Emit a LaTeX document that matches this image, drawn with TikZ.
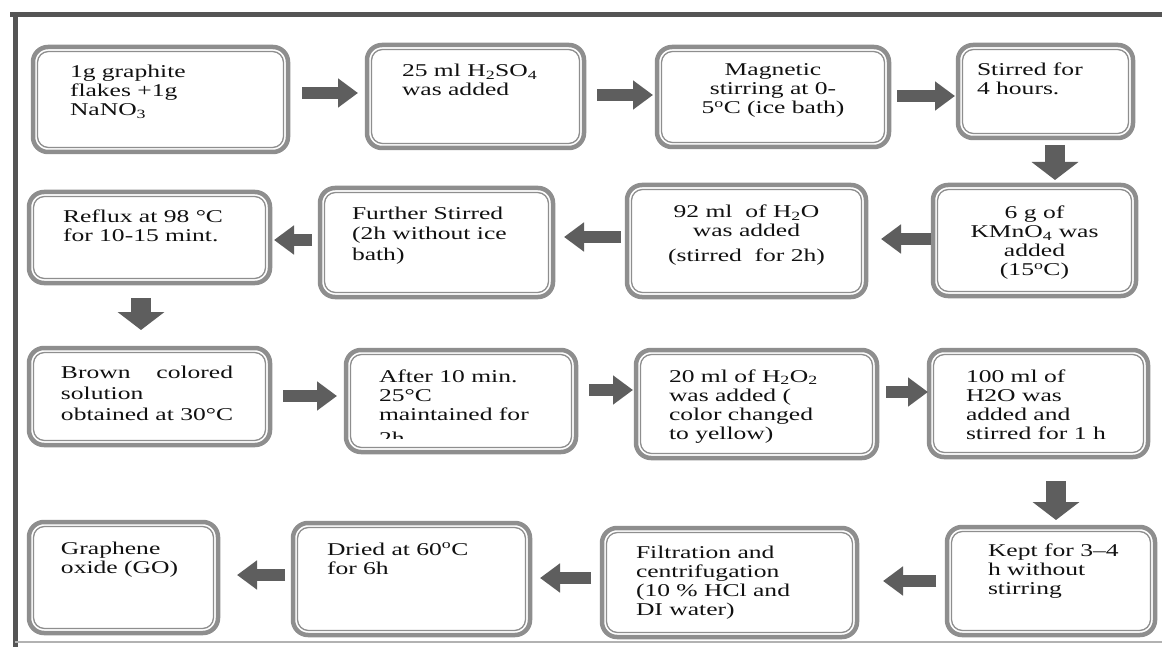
\documentclass[tikz,border=0pt]{standalone}
\usepackage{fontspec}
\setmainfont{Liberation Serif}[FakeStretch=1.42]
\usetikzlibrary{arrows.meta}
\definecolor{bordergray}{HTML}{8E8E8E}
\definecolor{arrowgray}{HTML}{5E5E5E}
\definecolor{framegray}{HTML}{555555}
\definecolor{txt}{HTML}{111111}
\newcommand\lft[1]{\raggedright\leftskip=#1pt\relax}
\newcommand\ctr{\centering}
\newcommand\flowbx[8]{\node[flowbox, anchor=north west] (#1) at (#2,#3) {\begin{minipage}[t][\dimexpr#5pt-#3pt\relax][t]{\dimexpr#4pt-#2pt\relax}#7\rule{0pt}{#6pt}#8\end{minipage}};}
\tikzset{
  flowbox/.style={draw=bordergray, line width=4.5pt, rounded corners=15pt, fill=white,
    inner sep=0pt, outer sep=0pt, text=txt, font=\fontsize{18}{19}\selectfont},
  innerline/.style={draw=bordergray, line width=1.3pt, rounded corners=11pt},
  harrow/.style={draw=arrowgray, line width=12pt, -{Triangle[length=20pt,width=28pt]}},
  varrow/.style={draw=arrowgray, line width=20pt, -{Triangle[length=18pt,width=46pt]}},
}
\begin{document}
\begin{tikzpicture}[x=1pt,y=-1pt]
\useasboundingbox (0,0) rectangle (1162,647);
\fill[white] (0,0) rectangle (1162,647);
% frame
\draw[framegray, line width=5pt] (10,15) -- (1162,15);
\draw[framegray, line width=5pt] (15,12.5) -- (15,647);
\draw[gray!60, line width=1.5pt] (15,642) -- (1162,642);
% boxes
\flowbx{b1}{33}{47}{288}{152}{31}{\lft{37}}{1g graphite\\flakes +1g\\NaNO\textsubscript{3}}
\flowbx{b2}{367}{45}{584}{148}{32}{\lft{35}}{25 ml H\textsubscript{2}SO\textsubscript{4}\\was added}
\flowbx{b3}{657}{47}{889}{147}{29}{\ctr}{Magnetic\\stirring at 0-\\5\textsuperscript{o}C (ice bath)}
\flowbx{b4}{958}{45}{1133}{138}{31}{\lft{19}}{Stirred for\\4 hours.}
\flowbx{b5}{29}{192}{270}{283}{31}{\lft{34}}{Reflux at 98 °C\\for 10-15 mint.}
\flowbx{b6}{320}{188}{553}{297}{32}{\lft{32}}{Further Stirred\\[1pt](2h without ice\\[1pt]bath)}
\flowbx{b7}{627}{185}{866}{297}{33}{\ctr}{92 ml\ \ of H\textsubscript{2}O\\was added\\[6pt](stirred\ \ for 2h)}
\flowbx{b8}{933}{185}{1136}{296}{34}{\ctr}{6 g of\\KMnO\textsubscript{4} was\\added\\(15\textsuperscript{o}C)}
\flowbx{b9}{29}{348}{270}{445}{30}{\lft{32}}{{\setbox0\hbox{obtained at 30°C}\hbox to\wd0{Brown\hfill colored}}\\[2pt]solution\\[2pt]obtained at 30°C}
\flowbx{b10}{346}{350}{576}{452}{32}{\lft{33}}{After 10 min.\\25°C\\maintained for\\[5pt]2h}
\flowbx{b11}{636}{350}{877}{458}{32}{\lft{33}}{20 ml of H\textsubscript{2}O\textsubscript{2}\\was added (\\color changed\\to yellow)}
\flowbx{b12}{929}{350}{1148}{457}{32}{\lft{37}}{100 ml of\\H2O was\\added and\\stirred for 1 h}
\flowbx{b13}{29}{522}{218}{633}{32}{\lft{32}}{Graphene\\oxide (GO)}
\flowbx{b14}{293}{523}{530}{635}{32}{\lft{34}}{Dried at 60\textsuperscript{o}C\\for 6h}
\flowbx{b15}{602}{528}{857}{637}{30}{\lft{34}}{Filtration and\\centrifugation\\(10 \% HCl and\\DI water)}
\flowbx{b16}{947}{527}{1155}{635}{29}{\lft{41}}{Kept for 3–4\\h without\\stirring}
% clipped last line of b10
\fill[white] ([shift={(20,-13)}]b10.south west) rectangle ([shift={(-20,-4)}]b10.south east);
% inner borders
\foreach \n in {b1,b2,b3,b4,b5,b6,b7,b8,b9,b10,b11,b12,b13,b14,b15,b16}
  \draw[innerline] ([shift={(4.5,4.5)}]\n.north west) rectangle ([shift={(-4.5,-4.5)}]\n.south east);
% arrows
\draw[harrow] ([shift={(14,-6.5)}]b1.east) -- ([shift={(-9,-3.5)}]b2.west);
\draw[harrow] ([shift={(13,-1.5)}]b2.east) -- ([shift={(-4,-2)}]b3.west);
\draw[harrow] ([shift={(8,-1)}]b3.east) -- ([shift={(-3,4.5)}]b4.west);
\draw[varrow] ([shift={(9.5,7)}]b4.south) -- ([shift={(20.5,-5)}]b8.north);
\draw[harrow] ([shift={(-2,-1.5)}]b8.west) -- ([shift={(15,-2)}]b7.east);
\draw[harrow] ([shift={(-6,-4)}]b7.west) -- ([shift={(11,-5.5)}]b6.east);
\draw[harrow] ([shift={(-8,-2.5)}]b6.west) -- ([shift={(4,2.5)}]b5.east);
\draw[varrow] ([shift={(-8.5,15)}]b5.south) -- ([shift={(-8.5,-18)}]b9.north);
\draw[harrow] ([shift={(13,-0.5)}]b9.east) -- ([shift={(-9,-5)}]b10.west);
\draw[harrow] ([shift={(13,-11)}]b10.east) -- ([shift={(-3,-14)}]b11.west);
\draw[harrow] ([shift={(9,-12)}]b11.east) -- ([shift={(-1,-11.5)}]b12.west);
\draw[varrow] ([shift={(17.5,24)}]b12.south) -- ([shift={(5,-7)}]b16.north);
\draw[harrow] ([shift={(-11,0)}]b16.west) -- ([shift={(26,-1.5)}]b15.east);
\draw[harrow] ([shift={(-11,-4.5)}]b15.west) -- ([shift={(10,-1)}]b14.east);
\draw[harrow] ([shift={(-8,-4)}]b14.west) -- ([shift={(19,-2.5)}]b13.east);
\end{tikzpicture}
\end{document}
